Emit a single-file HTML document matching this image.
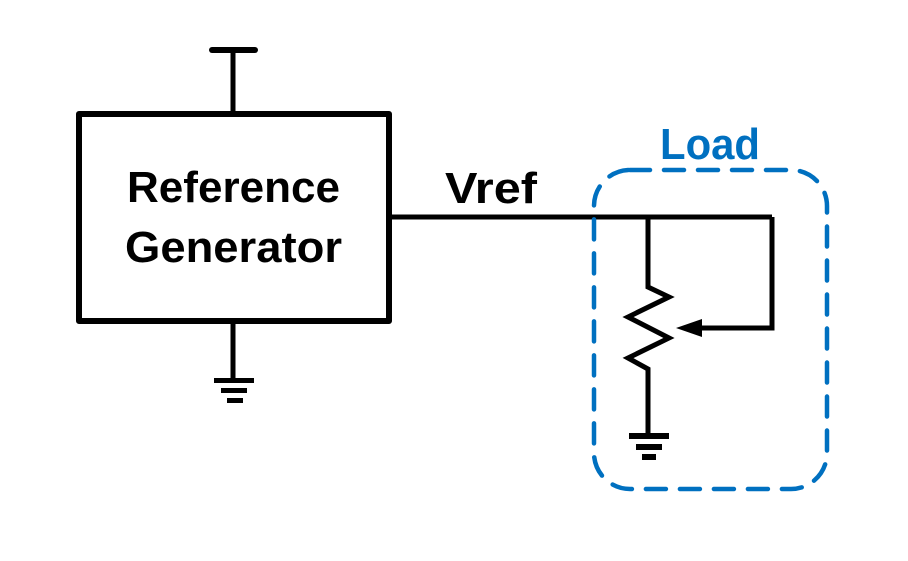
<!DOCTYPE html>
<html><head><style>body{margin:0;background:#fff}</style></head><body>
<svg width="908" height="556" xmlns="http://www.w3.org/2000/svg">
<rect width="908" height="556" fill="#fff"/>
<g stroke="#000" stroke-width="5" fill="none" stroke-linecap="butt">
<line x1="212" y1="50" x2="255" y2="50" stroke-linecap="round" stroke-width="6"/>
<line x1="233" y1="50" x2="233" y2="113"/>
<rect x="79" y="114" width="310" height="207" stroke-linejoin="round" stroke-width="6"/>
<line x1="233" y1="321" x2="233" y2="380"/>
<line x1="389" y1="217" x2="772" y2="217"/>
<polyline points="648,217 648,287 669,297 628,317 669,338 628,358 648,369 648,435"/>
<polyline points="772,217 772,328 700,328"/>
</g>
<g fill="#000">
<rect x="214" y="378" width="40" height="5"/><rect x="221" y="388" width="26" height="5"/><rect x="227" y="398" width="16" height="5"/>
<rect x="629" y="433" width="40" height="6"/><rect x="636" y="444" width="26" height="6"/><rect x="642" y="454" width="14" height="6"/>
<polygon points="676,328 702,319 702,337"/>
</g>
<rect x="594" y="170" width="233" height="319" rx="36" fill="none" stroke="#0070C0" stroke-width="4.5" stroke-dasharray="20 14" stroke-linecap="round"/>
<g font-family="Liberation Sans, sans-serif" font-weight="bold">
<text x="127" y="202" font-size="44" textLength="213" lengthAdjust="spacingAndGlyphs">Reference</text>
<text x="125" y="262" font-size="44" textLength="217" lengthAdjust="spacingAndGlyphs">Generator</text>
<text x="445" y="203" font-size="44" textLength="92" lengthAdjust="spacingAndGlyphs">Vref</text>
<text x="660" y="159" font-size="44" fill="#0070C0" textLength="100" lengthAdjust="spacingAndGlyphs">Load</text>
</g>
</svg>
</body></html>
